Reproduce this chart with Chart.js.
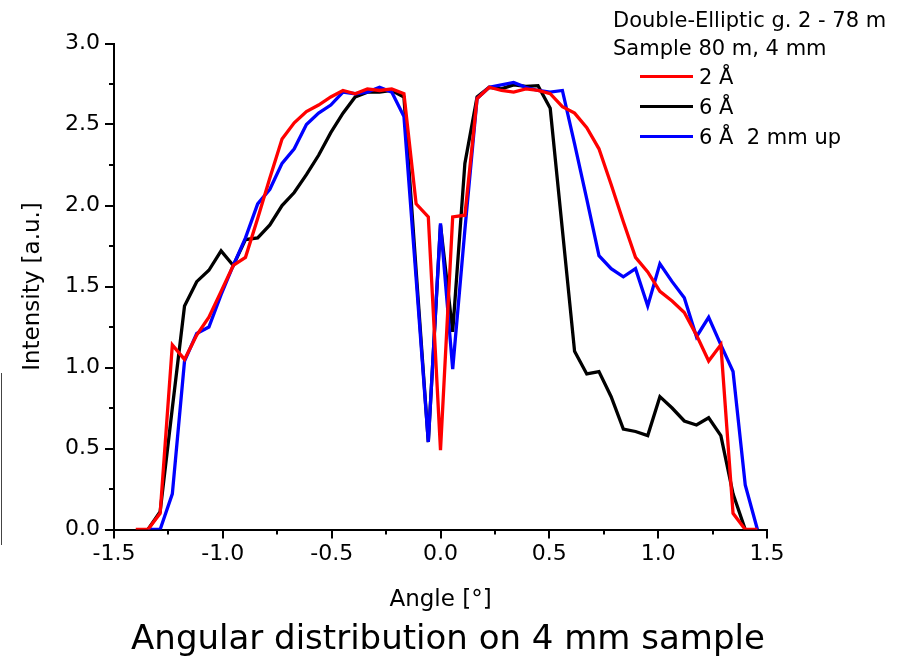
<!DOCTYPE html>
<html>
<head>
<meta charset="utf-8">
<script src="https://cdn.jsdelivr.net/npm/chart.js@4"></script>
<style>
  body { margin: 0; background: #fff; }
  #wrap { position: relative; width: 908px; height: 666px; font-family: "DejaVu Sans", sans-serif; color: #000; }
  #angChart { position: absolute; left: 0; top: 0; }
  .note { position: absolute; left: 613px; font-size: 21px; line-height: 28px; white-space: nowrap; }
  .key { position: absolute; left: 640px; font-size: 21px; line-height: 30px; white-space: nowrap; }
  .key span { display: inline-block; width: 53px; height: 3px; vertical-align: middle; margin-right: 6px; position: relative; top: -2px; }
  #caption { position: absolute; left: 0; width: 896px; top: 617px; text-align: center; font-size: 34px; line-height: 40px; white-space: nowrap; }
  #edge { position: absolute; left: 1px; top: 373px; width: 1px; height: 172px; background: #444; }
</style>
</head>
<body>
<div id="wrap">
  <canvas id="angChart" width="908" height="666"></canvas>
  <div class="note" style="top:6px">Double-Elliptic g. 2 - 78 m</div>
  <div class="note" style="top:34px">Sample 80 m, 4 mm</div>
  <div class="key" style="top:62px"><span style="background:#ff0000"></span>2 Å</div>
  <div class="key" style="top:92px"><span style="background:#000000"></span>6 Å</div>
  <div class="key" style="top:122px"><span style="background:#0000ff"></span>6 Å&nbsp; 2 mm up</div>
  <div id="caption">Angular distribution on 4 mm sample</div>
  <div id="edge"></div>
</div>
<script>
// angle grid [deg]
const angles = [
  -1.456, -1.400, -1.344, -1.288, -1.232, -1.176, -1.120, -1.064, -1.008, -0.952,
  -0.896, -0.840, -0.784, -0.728, -0.672, -0.616, -0.560, -0.504, -0.448, -0.392,
  -0.336, -0.280, -0.224, -0.168, -0.112, -0.056, 0.000, 0.056, 0.112, 0.168,
  0.224, 0.280, 0.336, 0.392, 0.448, 0.504, 0.560, 0.616, 0.672, 0.728,
  0.784, 0.840, 0.896, 0.952, 1.008, 1.064, 1.120, 1.176, 1.232, 1.288,
  1.344, 1.400, 1.456
];

// 2 A
const red2A = [
  null, 0, 0, 0.10, 1.14, 1.05, 1.20, 1.31, 1.47, 1.63,
  1.68, 1.92, 2.17, 2.41, 2.51, 2.58, 2.62, 2.67, 2.71, 2.69,
  2.72, 2.71, 2.72, 2.69, 2.01, 1.93, 0.49, 1.93, 1.94, 2.66,
  2.73, 2.71, 2.70, 2.72, 2.71, 2.69, 2.61, 2.57, 2.48, 2.35,
  2.13, 1.90, 1.68, 1.59, 1.47, 1.41, 1.34, 1.20, 1.04, 1.14,
  0.10, 0, 0
];

// 6 A
const black6A = [
  null, null, 0, 0.11, 0.75, 1.38, 1.53, 1.60, 1.72, 1.63,
  1.79, 1.80, 1.88, 2.00, 2.08, 2.19, 2.31, 2.45, 2.57, 2.67,
  2.70, 2.70, 2.71, 2.67, 1.60, 0.54, 1.88, 1.22, 2.26, 2.67,
  2.73, 2.72, 2.745, 2.735, 2.74, 2.60, 1.85, 1.10, 0.96, 0.975,
  0.82, 0.62, 0.605, 0.58, 0.82, 0.75, 0.67, 0.645, 0.69, 0.58,
  0.22, 0, null
];

// 6 A, 2 mm up
const blue6Aup = [
  null, null, 0, 0, 0.22, 1.04, 1.21, 1.25, 1.45, 1.63,
  1.80, 2.01, 2.10, 2.26, 2.35, 2.50, 2.57, 2.62, 2.70, 2.69,
  2.70, 2.73, 2.70, 2.55, 1.55, 0.54, 1.89, 0.99, 1.85, 2.66,
  2.73, 2.745, 2.76, 2.73, 2.71, 2.70, 2.71, 2.38, 2.04, 1.69,
  1.61, 1.56, 1.61, 1.38, 1.64, 1.53, 1.43, 1.19, 1.31, 1.14,
  0.975, 0.275, 0
];

const xTickLabels = ["-1.5", "-1.0", "-0.5", "0.0", "0.5", "1.0", "1.5"];

function toPoints(vals) {
  const pts = [];
  vals.forEach((v, i) => { if (v !== null) pts.push({ x: angles[i], y: v }); });
  return pts;
}

// major ticks every 0.5, minor every 0.25, pointing outwards
const axisTicks = {
  id: "axisTicks",
  afterDraw(chart) {
    const { ctx, scales: { x, y } } = chart;
    ctx.save();
    ctx.strokeStyle = "#000";
    ctx.lineWidth = 2;
    ctx.beginPath();
    for (let v = -1.5; v <= 1.5001; v += 0.25) {
      const px = Math.round(x.getPixelForValue(v));
      const len = Math.abs(v * 2 - Math.round(v * 2)) < 1e-6 ? 9 : 5;
      ctx.moveTo(px, y.bottom);
      ctx.lineTo(px, y.bottom + len);
    }
    for (let v = 0; v <= 3.0001; v += 0.25) {
      const py = Math.round(y.getPixelForValue(v));
      const len = Math.abs(v * 2 - Math.round(v * 2)) < 1e-6 ? 9 : 5;
      ctx.moveTo(x.left, py);
      ctx.lineTo(x.left - len, py);
    }
    ctx.stroke();
    ctx.restore();
  }
};

const ctx = document.getElementById("angChart").getContext("2d");

new Chart(ctx, {
  type: "line",
  data: {
    datasets: [
      { label: "2 Å", data: toPoints(red2A), borderColor: "#ff0000", borderWidth: 3.3, order: 0 },
      { label: "6 Å", data: toPoints(black6A), borderColor: "#000000", borderWidth: 3.3, order: 2 },
      { label: "6 Å  2 mm up", data: toPoints(blue6Aup), borderColor: "#0000ff", borderWidth: 3.3, order: 1 }
    ]
  },
  options: {
    responsive: false,
    animation: false,
    layout: { padding: { left: 19, top: 43.5, right: 141, bottom: 52 } },
    elements: { point: { radius: 0 }, line: { tension: 0, fill: false, borderJoinStyle: "miter" } },
    plugins: { legend: { display: false }, tooltip: { enabled: false } },
    scales: {
      x: {
        type: "linear",
        min: -1.5,
        max: 1.5,
        afterFit: s => { s.height = 84.5; },
        grid: { display: false, drawTicks: false },
        border: { display: true, color: "#000", width: 2 },
        ticks: {
          stepSize: 0.5,
          padding: 12,
          color: "#000",
          font: { family: "DejaVu Sans", size: 22 },
          maxRotation: 0,
          callback: (v, i) => xTickLabels[i]
        },
        title: { display: true, text: "Angle [°]", color: "#000", padding: 0, font: { family: "DejaVu Sans", size: 23 } }
      },
      y: {
        min: 0,
        max: 3,
        afterFit: s => { s.width = 95; },
        grid: { display: false, drawTicks: false },
        border: { display: true, color: "#000", width: 2 },
        ticks: {
          stepSize: 0.5,
          padding: 14,
          color: "#000",
          font: { family: "DejaVu Sans", size: 22 },
          callback: v => v.toFixed(1)
        },
        title: { display: true, text: "Intensity [a.u.]", color: "#000", padding: 0, font: { family: "DejaVu Sans", size: 23 } }
      }
    }
  },
  plugins: [axisTicks]
});
</script>
</body>
</html>
